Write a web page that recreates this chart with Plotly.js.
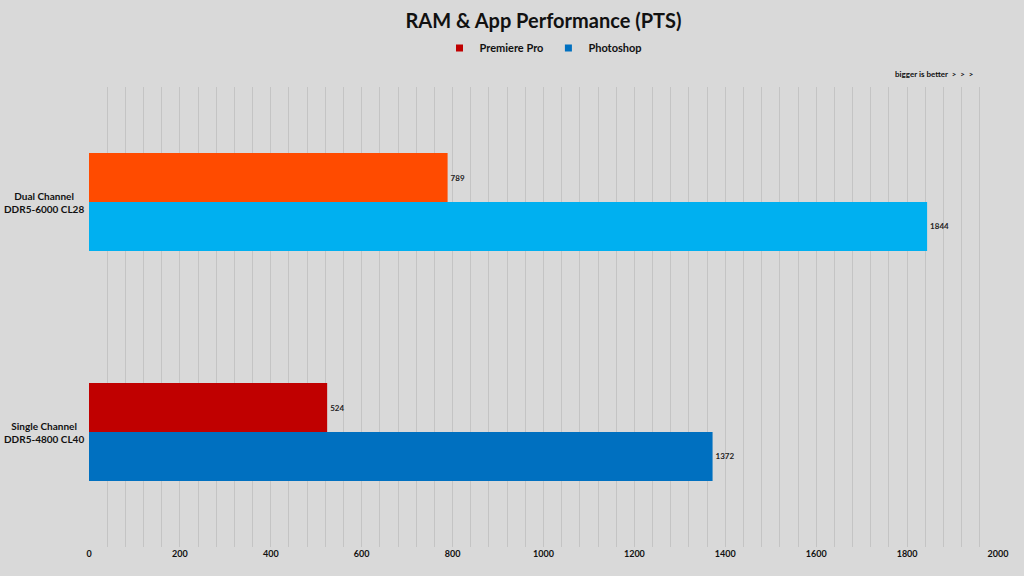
<!DOCTYPE html>
<html>
<head>
<meta charset="utf-8">
<script src="https://cdn.plot.ly/plotly-3.0.1.min.js"></script>
<style>
	html, body { margin: 0; padding: 0; background: #d9d9d9; }
	#chart { width: 1024px; height: 576px; }
</style>
</head>
<body>
<div id="chart"></div>
<script>
// Categories, top to bottom
var configs = ["Dual Channel<br>DDR5-6000 CL28", "Single Channel<br>DDR5-4800 CL40"];

// Scores (PTS)
var premiereVals = [789, 524];
var photoshopVals = [1844, 1372];

// per-bar colours (dual channel is highlighted), legend uses the series colour
var premiereColors = ["#ff4b00", "#c00000"];
var photoshopColors = ["#00b0f0", "#0070c0"];
var seriesColors = ["#c00000", "#0070c0"];

var xTicks = [0, 200, 400, 600, 800, 1000, 1200, 1400, 1600, 1800, 2000];

var fontFam = "Lato, 'Open Sans', sans-serif";

function barTrace(name, vals, colors) {
	return {
		type: "bar",
		orientation: "h",
		name: name,
		y: configs,
		x: vals,
		text: vals.map(String),
		textposition: "outside",
		cliponaxis: false,
		textfont: { size: 8, color: "#222", family: fontFam, weight: "bold" },
		marker: { color: colors },
		showlegend: false,
		hoverinfo: "x+name"
	};
}

// legend only entries, with small square keys like the original
function keyTrace(name, color) {
	return {
		type: "scatter",
		mode: "markers",
		name: name,
		x: [null],
		y: [null],
		marker: { symbol: "square", size: 7, color: color },
		hoverinfo: "skip"
	};
}

var data = [
	barTrace("Premiere Pro", premiereVals, premiereColors),
	barTrace("Photoshop", photoshopVals, photoshopColors),
	keyTrace("Premiere Pro", seriesColors[0]),
	keyTrace("Photoshop", seriesColors[1])
];

// category labels as centred annotations (plotly right-aligns multi line ticks)
var catLabels = configs.map(function (c) {
	return {
		text: c,
		xref: "paper", yref: "y",
		x: -0.05, y: c,
		xanchor: "center", yanchor: "middle",
		align: "center",
		showarrow: false,
		font: { size: 10, color: "#111", family: fontFam, weight: "bold" }
	};
});

var notes = [{
	text: "bigger is better  >  >  >",
	xref: "paper", yref: "paper",
	x: 0.976, y: 1.028,
	xanchor: "right", yanchor: "middle",
	showarrow: false,
	font: { size: 8, color: "#111", family: fontFam, weight: "bold" }
}];

var layout = {
	width: 1024,
	height: 576,
	margin: { l: 89, r: 26, t: 87, b: 29 },
	paper_bgcolor: "#d9d9d9",
	plot_bgcolor: "#d9d9d9",
	font: { family: fontFam, color: "#111" },
	title: {
		text: "<b>RAM & App Performance (PTS)</b>",
		font: { size: 20, color: "#111", family: fontFam },
		x: 0.5, xref: "paper", xanchor: "center",
		y: 0.963, yanchor: "middle"
	},
	barmode: "group",
	bargap: 0.574,
	bargroupgap: 0,
	showlegend: true,
	legend: {
		orientation: "h",
		x: 0.5, xanchor: "center",
		y: 1.085, yanchor: "middle",
		font: { size: 11, color: "#111", family: fontFam, weight: "bold" },
		itemwidth: 30,
		bgcolor: "rgba(0,0,0,0)"
	},
	xaxis: {
		range: [0, 2000],
		tickvals: xTicks,
		showgrid: false,
		zeroline: false,
		showline: false,
		ticks: "",
		tickfont: { size: 9, color: "#111", family: fontFam, weight: "bold" },
		minor: { dtick: 40, showgrid: true, gridcolor: "#c4c4c4", gridwidth: 1 },
		fixedrange: true
	},
	yaxis: {
		autorange: "reversed",
		showticklabels: false,
		showgrid: false,
		zeroline: false,
		showline: false,
		ticks: "",
		fixedrange: true
	},
	annotations: catLabels.concat(notes)
};

Plotly.newPlot("chart", data, layout, { displayModeBar: false, responsive: false });
</script>
</body>
</html>
